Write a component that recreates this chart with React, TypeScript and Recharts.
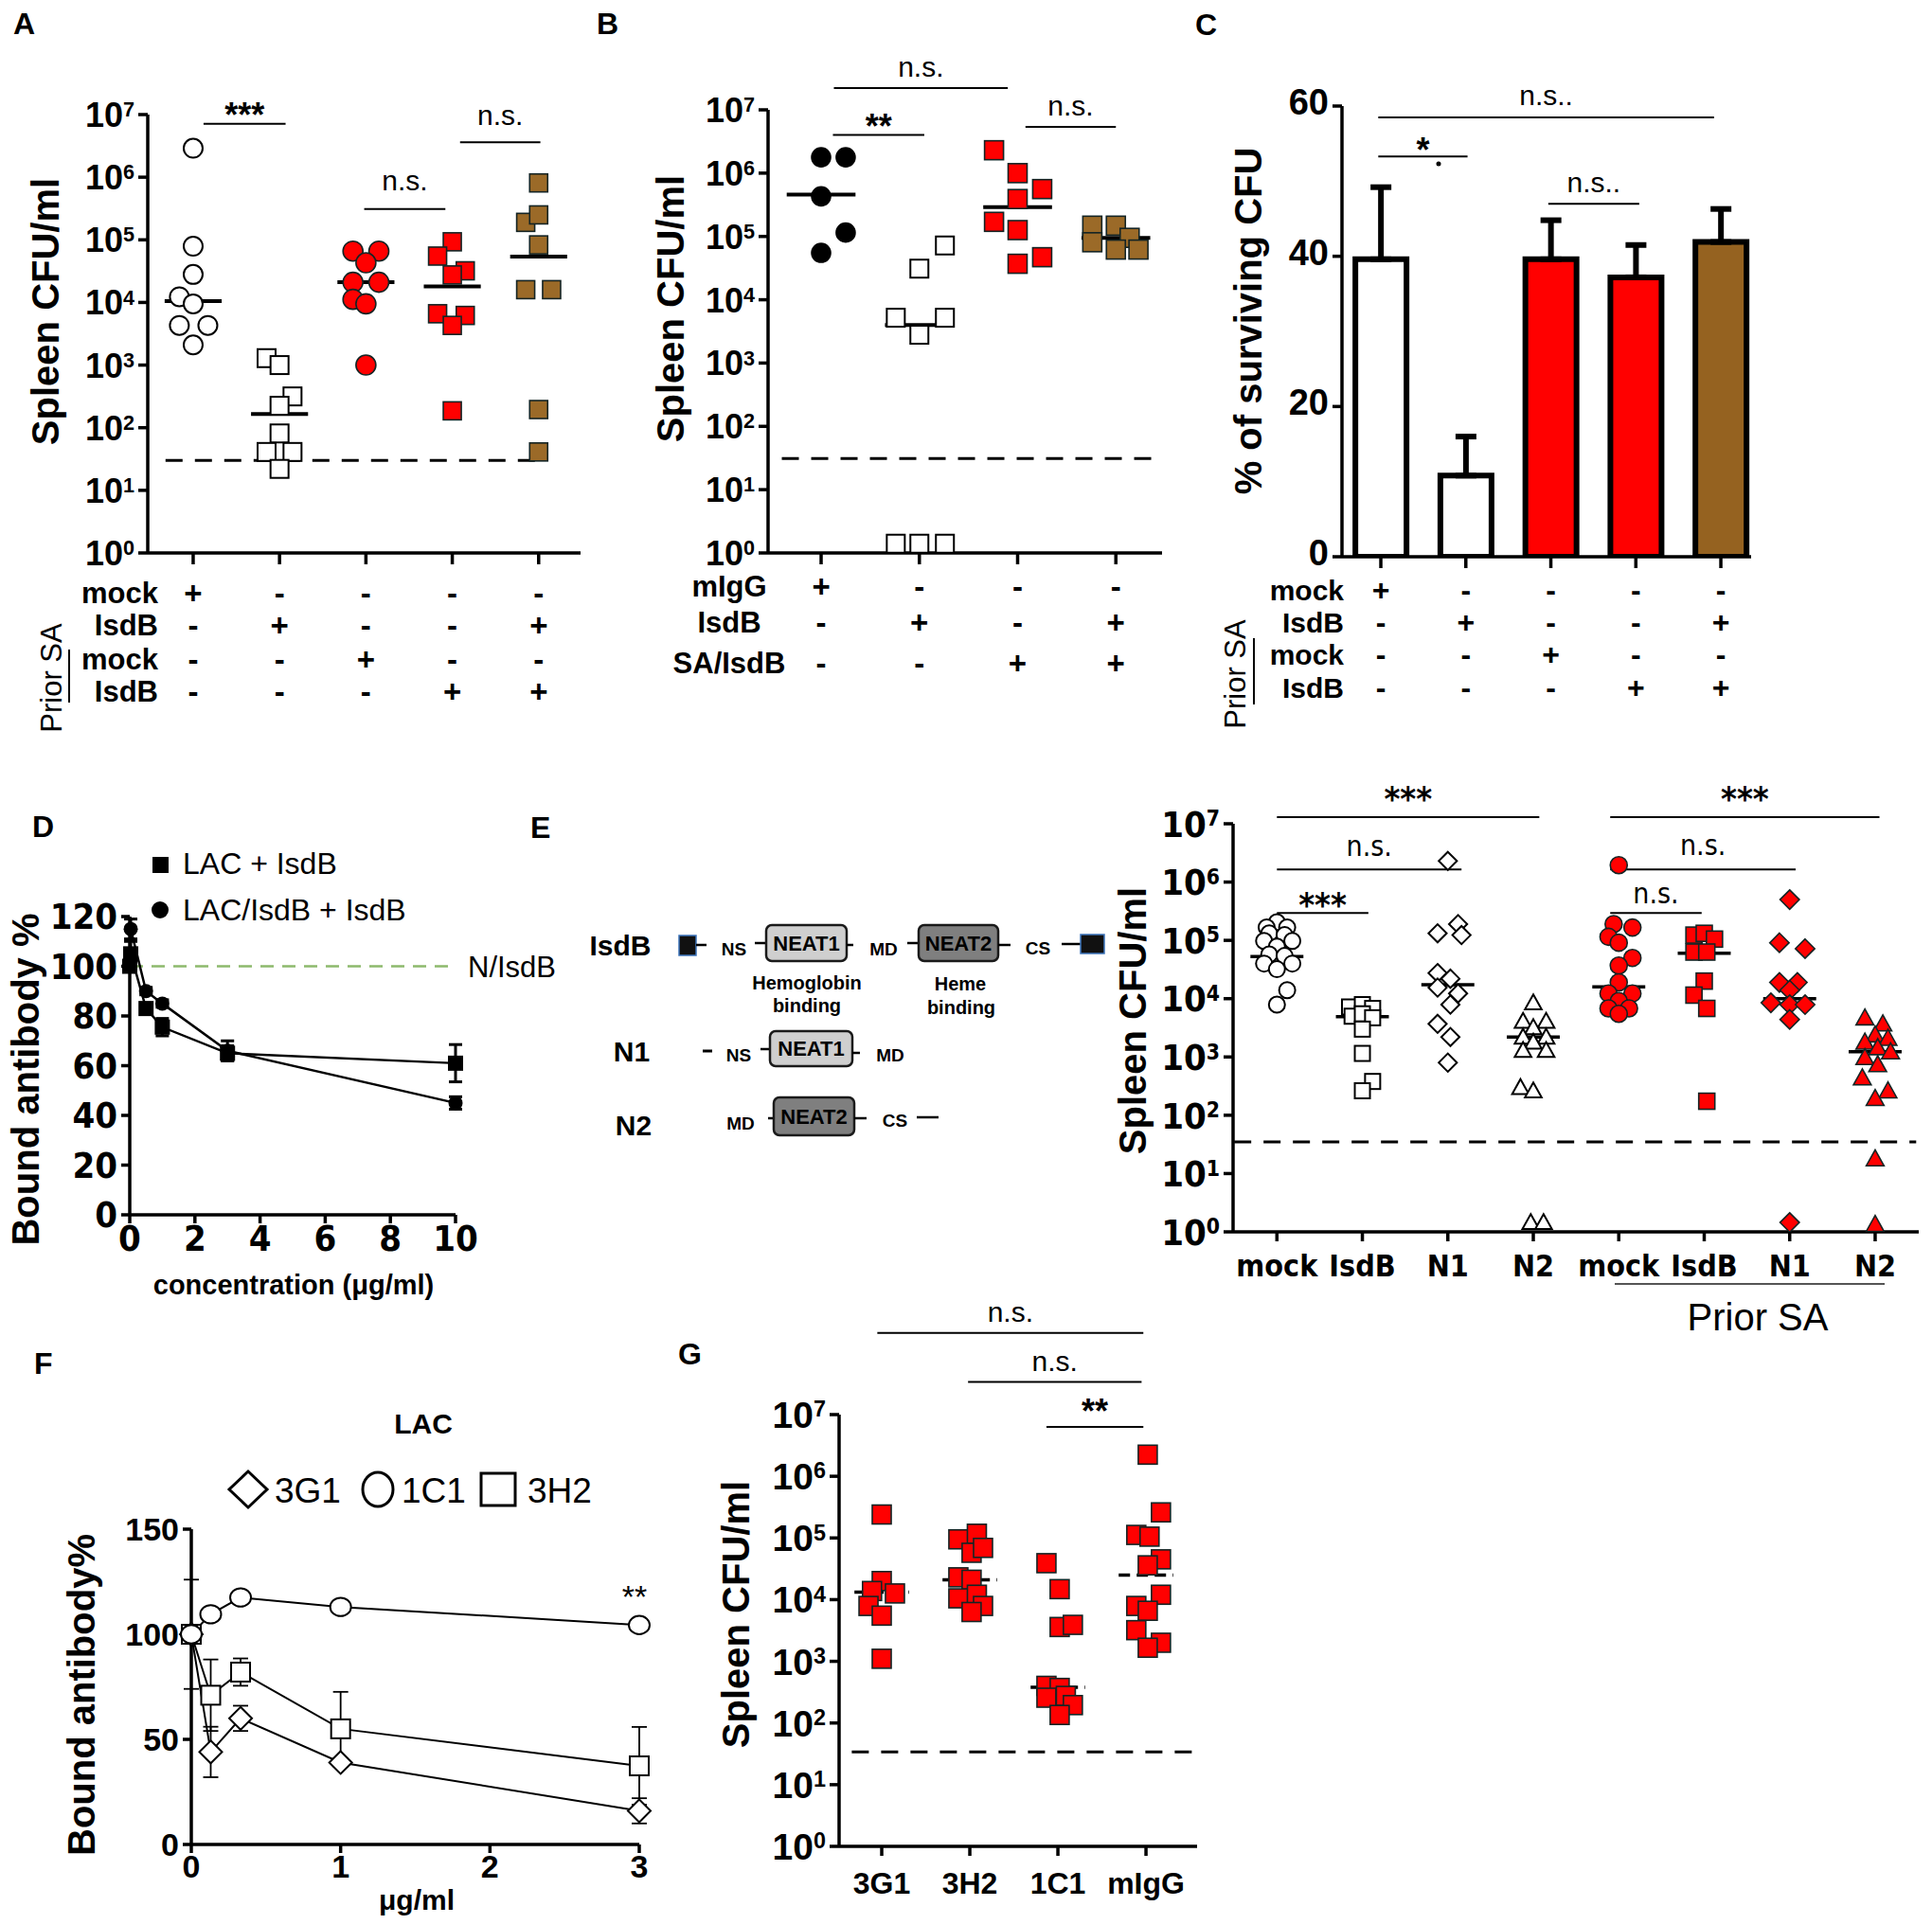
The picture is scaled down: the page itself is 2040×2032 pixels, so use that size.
import React from 'react';
import {
  ScatterChart, Scatter, XAxis, YAxis, ReferenceLine,
  BarChart, Bar, Cell, ErrorBar, LineChart, Line,
} from 'recharts';

const SANS = "'Liberation Sans', Arial, Helvetica, sans-serif";
const NARROW = "'Liberation Sans Narrow', 'Arial Narrow', 'DejaVu Sans Condensed', 'Liberation Sans', sans-serif";
const RED = '#FF0000';
const BROWN = '#9B6A28';
const BAR_BROWN = '#956220';
const EDGE = '#142424';

type Pt = { v: number; j: number };

// ---------------- Panel A data ----------------
const aRowLabels = ['mock', 'IsdB', 'mock', 'IsdB'];
const aSigns = [
  ['+', '-', '-', '-', '-'],
  ['-', '+', '-', '-', '+'],
  ['-', '-', '+', '-', '-'],
  ['-', '-', '-', '+', '+'],
];
const aMock: Pt[] = [{ v: 2.9e6, j: 0 }, { v: 7.9e4, j: 0 }, { v: 2.8e4, j: 0 }, { v: 1.23e4, j: -0.16 }, { v: 9.5e3, j: 0 }, { v: 4.3e3, j: -0.16 }, { v: 4.3e3, j: 0.17 }, { v: 2.1e3, j: 0 }];
const aIsdB: Pt[] = [{ v: 1.29e3, j: -0.15 }, { v: 1.0e3, j: 0 }, { v: 316, j: 0.15 }, { v: 224, j: 0 }, { v: 81, j: 0 }, { v: 41, j: -0.15 }, { v: 41, j: 0.15 }, { v: 22, j: 0 }];
const aPriorMock: Pt[] = [{ v: 6.6e4, j: -0.15 }, { v: 6.6e4, j: 0.15 }, { v: 4.3e4, j: 0 }, { v: 2.1e4, j: -0.15 }, { v: 2.1e4, j: 0.15 }, { v: 1.12e4, j: -0.15 }, { v: 9.5e3, j: 0 }, { v: 1.0e3, j: 0 }];
const aPriorIsdB: Pt[] = [{ v: 9.3e4, j: 0 }, { v: 5.5e4, j: -0.17 }, { v: 3.2e4, j: 0.15 }, { v: 2.75e4, j: 0 }, { v: 6.6e3, j: -0.17 }, { v: 6.2e3, j: 0.15 }, { v: 4.3e3, j: 0 }, { v: 186, j: 0 }];
const aPriorBoth: Pt[] = [{ v: 8.1e5, j: 0 }, { v: 1.9e5, j: -0.15 }, { v: 2.5e5, j: 0 }, { v: 8.3e4, j: 0 }, { v: 1.6e4, j: -0.15 }, { v: 1.6e4, j: 0.15 }, { v: 195, j: 0 }, { v: 41, j: 0 }];
const aMedians = [1.05e4, 165, 2.1e4, 1.8e4, 5.4e4];

// ---------------- Panel B data ----------------
const bRowLabels = ['mIgG', 'IsdB', 'SA/IsdB'];
const bSigns = [
  ['+', '-', '-', '-'],
  ['-', '+', '-', '+'],
  ['-', '-', '+', '+'],
];
const bIgG: Pt[] = [{ v: 1.78e6, j: 0 }, { v: 1.78e6, j: 0.25 }, { v: 4.3e5, j: 0 }, { v: 1.15e5, j: 0.25 }, { v: 5.5e4, j: 0 }];
const bIsdB: Pt[] = [{ v: 7.2e4, j: 0.26 }, { v: 3.1e4, j: 0 }, { v: 5.2e3, j: -0.24 }, { v: 5.2e3, j: 0.26 }, { v: 2.8e3, j: 0 }, { v: 1.4, j: -0.24 }, { v: 1.4, j: 0 }, { v: 1.4, j: 0.26 }];
const bSA: Pt[] = [{ v: 2.3e6, j: -0.24 }, { v: 1.0e6, j: 0 }, { v: 5.6e5, j: 0.25 }, { v: 3.9e5, j: 0 }, { v: 1.7e5, j: -0.24 }, { v: 1.26e5, j: 0 }, { v: 4.7e4, j: 0.25 }, { v: 3.7e4, j: 0 }];
const bBoth: Pt[] = [{ v: 1.48e5, j: -0.24 }, { v: 1.48e5, j: 0 }, { v: 9.5e4, j: 0.14 }, { v: 8.1e4, j: -0.24 }, { v: 6.2e4, j: 0 }, { v: 6.2e4, j: 0.23 }];
const bMedians = [4.6e5, 4.0e3, 2.9e5, 9.5e4];

// ---------------- Panel C data ----------------
const cValues = [39.6, 10.8, 39.6, 37.2, 41.9];
const cErrors = [9.6, 5.2, 5.2, 4.3, 4.4];
const cColors = ['#FFFFFF', '#FFFFFF', RED, RED, BAR_BROWN];
const cTicks = [0, 20, 40, 60];

// ---------------- Panel D data ----------------
const dConc = [0, 0.03, 0.5, 1, 3, 10];
const dLacIsdB = [100, 105, 83, 75.5, 65, 61];
const dLacIsdBErr = [0, 5, 2, 3.5, 3, 7.5];
const dPriorIsdB = [100, 115, 90, 85, 66, 45];
const dPriorIsdBErr = [0, 4, 1.5, 1.5, 4, 2.5];
const dXTicks = [0, 2, 4, 6, 8, 10];
const dYTicks = [0, 20, 40, 60, 80, 100, 120];

// ---------------- Panel E data ----------------
const eLabels = ['mock', 'IsdB', 'N1', 'N2', 'mock', 'IsdB', 'N1', 'N2'];
const eMock: Pt[] = [{ v: 2.04e5, j: 0 }, { v: 1.66e5, j: -0.12 }, { v: 1.66e5, j: 0.12 }, { v: 1.32e5, j: -0.09 }, { v: 1.23e5, j: 0.09 }, { v: 9.8e4, j: -0.15 }, { v: 9.8e4, j: 0.18 }, { v: 7.8e4, j: 0 }, { v: 5.75e4, j: -0.09 }, { v: 5.4e4, j: 0.09 }, { v: 4.0e4, j: -0.15 }, { v: 4.0e4, j: 0.18 }, { v: 3.2e4, j: 0 }, { v: 1.4e4, j: 0.12 }, { v: 7.9e3, j: 0 }];
const eIsdB: Pt[] = [{ v: 7.2e3, j: -0.15 }, { v: 7.9e3, j: 0 }, { v: 6.8e3, j: 0.12 }, { v: 5.0e3, j: -0.12 }, { v: 5.5e3, j: 0 }, { v: 4.7e3, j: 0.12 }, { v: 3.0e3, j: 0 }, { v: 1.15e3, j: 0 }, { v: 380, j: 0.12 }, { v: 263, j: 0 }];
const eN1: Pt[] = [{ v: 2.3e6, j: 0 }, { v: 1.9e5, j: 0.12 }, { v: 1.32e5, j: -0.12 }, { v: 1.23e5, j: 0.16 }, { v: 2.75e4, j: -0.12 }, { v: 2.2e4, j: 0.03 }, { v: 1.55e4, j: -0.12 }, { v: 1.23e4, j: 0.12 }, { v: 7.9e3, j: 0.03 }, { v: 3.7e3, j: -0.12 }, { v: 2.2e3, j: 0.03 }, { v: 800, j: 0 }];
const eN2: Pt[] = [{ v: 8.5e3, j: 0 }, { v: 4.1e3, j: -0.12 }, { v: 4.1e3, j: 0.15 }, { v: 3.2e3, j: 0 }, { v: 2.2e3, j: -0.12 }, { v: 2.2e3, j: 0.15 }, { v: 1.8e3, j: 0 }, { v: 1.3e3, j: -0.12 }, { v: 1.3e3, j: 0.15 }, { v: 300, j: -0.15 }, { v: 263, j: 0 }, { v: 1.45, j: -0.03 }, { v: 1.45, j: 0.12 }];
const ePriorMock: Pt[] = [{ v: 1.95e6, j: 0 }, { v: 1.9e5, j: -0.06 }, { v: 1.66e5, j: 0.16 }, { v: 1.15e5, j: -0.12 }, { v: 9.1e4, j: 0 }, { v: 5.0e4, j: 0.16 }, { v: 3.7e4, j: 0 }, { v: 1.9e4, j: 0 }, { v: 1.23e4, j: -0.12 }, { v: 1.23e4, j: 0.16 }, { v: 9.1e3, j: 0 }, { v: 6.8e3, j: -0.12 }, { v: 6.8e3, j: 0.12 }, { v: 5.5e3, j: 0 }];
const ePriorIsdB: Pt[] = [{ v: 1.23e5, j: -0.12 }, { v: 1.32e5, j: 0 }, { v: 1.05e5, j: 0.12 }, { v: 6.3e4, j: -0.12 }, { v: 6.3e4, j: 0.03 }, { v: 2.0e4, j: 0 }, { v: 1.15e4, j: -0.12 }, { v: 6.8e3, j: 0.03 }, { v: 174, j: 0.03 }];
const ePriorN1: Pt[] = [{ v: 5.0e5, j: 0 }, { v: 9.1e4, j: -0.12 }, { v: 7.2e4, j: 0.18 }, { v: 1.9e4, j: -0.12 }, { v: 1.9e4, j: 0.09 }, { v: 1.4e4, j: 0 }, { v: 8.5e3, j: -0.22 }, { v: 7.9e3, j: 0 }, { v: 7.9e3, j: 0.18 }, { v: 4.4e3, j: 0 }, { v: 1.45, j: 0 }];
const ePriorN2: Pt[] = [{ v: 4.7e3, j: -0.12 }, { v: 3.7e3, j: 0.09 }, { v: 2.4e3, j: 0 }, { v: 2.1e3, j: 0.15 }, { v: 1.8e3, j: -0.12 }, { v: 1.45e3, j: 0.03 }, { v: 1.23e3, j: 0.18 }, { v: 980, j: -0.12 }, { v: 740, j: 0.03 }, { v: 440, j: -0.15 }, { v: 263, j: 0.15 }, { v: 195, j: 0 }, { v: 18, j: 0 }, { v: 1.35, j: 0 }];
const eMedians = [5.25e4, 4.9e3, 1.74e4, 2.2e3, 1.6e4, 6.0e4, 1.0e4, 1.23e3];

// ---------------- Panel F data ----------------
const fConc = [0, 0.13, 0.33, 1, 3];
const f3G1 = [100, 44, 60, 39, 16];
const f3G1Err = [0, 12, 6, 2, 6];
const f1C1 = [100, 109.5, 117.5, 113, 104.4];
const f1C1Err = [0, 3, 3, 1.5, 1.5];
const f3H2 = [100, 71, 82, 55, 37.4];
const f3H2Err = [26, 17, 6.5, 17.6, 18.5];
const fXTicks = [0, 1, 2, 3];
const fYTicks = [0, 50, 100, 150];

// ---------------- Panel G data ----------------
const gLabels = ['3G1', '3H2', '1C1', 'mIgG'];
const g3G1: Pt[] = [{ v: 2.4e5, j: 0 }, { v: 2.0e4, j: 0 }, { v: 1.38e4, j: -0.11 }, { v: 1.26e4, j: 0.15 }, { v: 7.9e3, j: -0.15 }, { v: 5.5e3, j: 0 }, { v: 1.1e3, j: 0 }];
const g3H2: Pt[] = [{ v: 9.5e4, j: -0.13 }, { v: 1.17e5, j: 0.08 }, { v: 5.75e4, j: 0.02 }, { v: 6.9e4, j: 0.15 }, { v: 2.3e4, j: -0.13 }, { v: 2.1e4, j: 0.02 }, { v: 1.05e4, j: -0.13 }, { v: 1.2e4, j: 0.08 }, { v: 7.9e3, j: 0.15 }, { v: 6.3e3, j: 0.02 }];
const g1C1: Pt[] = [{ v: 3.9e4, j: -0.13 }, { v: 1.48e4, j: 0.02 }, { v: 3.6e3, j: 0.02 }, { v: 3.9e3, j: 0.17 }, { v: 400, j: -0.13 }, { v: 370, j: 0.02 }, { v: 257, j: -0.13 }, { v: 275, j: 0.09 }, { v: 195, j: 0.17 }, { v: 135, j: 0.02 }];
const gIgG: Pt[] = [{ v: 2.24e6, j: 0.02 }, { v: 2.6e5, j: 0.17 }, { v: 1.12e5, j: -0.11 }, { v: 1.05e5, j: 0.04 }, { v: 4.5e4, j: 0.17 }, { v: 3.6e4, j: 0.02 }, { v: 1.2e4, j: 0.17 }, { v: 7.9e3, j: -0.11 }, { v: 6.6e3, j: 0.02 }, { v: 3.2e3, j: -0.11 }, { v: 2.0e3, j: 0.17 }, { v: 1.66e3, j: 0.02 }];
const gMedians = [1.32e4, 2.1e4, 380, 2.5e4];

const LOG_TICKS = [1, 10, 100, 1e3, 1e4, 1e5, 1e6, 1e7];

// ---------------- helpers ----------------
type Shape = 'circle' | 'square' | 'diamond' | 'triangle' | 'ellipse';
function Marker({ cx, cy, shape, size, fill, stroke, sw }: any) {
  const h = size / 2;
  if (cx == null || cy == null) return <g />;
  if (shape === 'circle') return <circle cx={cx} cy={cy} r={h} fill={fill} stroke={stroke} strokeWidth={sw} />;
  if (shape === 'ellipse') return <ellipse cx={cx} cy={cy} rx={h} ry={h * 0.88} fill={fill} stroke={stroke} strokeWidth={sw} />;
  if (shape === 'square') return <rect x={cx - h} y={cy - h} width={size} height={size} fill={fill} stroke={stroke} strokeWidth={sw} />;
  if (shape === 'diamond') {
    const d = h * 1.2;
    return <polygon points={`${cx},${cy - d} ${cx + d},${cy} ${cx},${cy + d} ${cx - d},${cy}`} fill={fill} stroke={stroke} strokeWidth={sw} />;
  }
  const d = h * 1.1;
  return <polygon points={`${cx},${cy - d} ${cx + d},${cy + d * 0.8} ${cx - d},${cy + d * 0.8}`} fill={fill} stroke={stroke} strokeWidth={sw} />;
}

type Frame = { L: number; T: number; R: number; B: number; pl: number; pt: number; pr: number; pb: number };
const YW = 70;
const XH = 30;
function box(f: Frame) {
  return {
    style: { position: 'absolute' as const, left: f.L - f.pl, top: f.T - f.pt },
    width: f.R - f.L + f.pl + f.pr,
    height: f.B - f.T + f.pt + f.pb,
    margin: { left: f.pl - YW, top: f.pt, right: f.pr, bottom: f.pb - XH },
    ox: f.L - f.pl,
    oy: f.T - f.pt,
  };
}

function LogTick(props: any) {
  const { x, y, payload, fs, fam } = props;
  const e = Math.round(Math.log10(payload.value));
  return (
    <text x={x} y={y + fs * 0.36} textAnchor="end" fontSize={fs} fontWeight="bold" fontFamily={fam} fill="#000">
      10<tspan dy={-fs * 0.3} fontSize={fs * 0.6}>{e}</tspan>
    </text>
  );
}

function NumTick(props: any) {
  const { x, y, payload, fs, dy = 0 } = props;
  return (
    <text x={x} y={y + dy} textAnchor="end" dominantBaseline="central" fontSize={fs} fontWeight="bold" fontFamily={SANS} fill="#000">
      {payload.value}
    </text>
  );
}

const rowsTick = (signs: string[][], ys: number[], fs: number) => (oy: number) => (p: any) => {
  const i = Math.round(p.payload.value) - 1;
  return (
    <g>
      {signs.map((row, k) => (
        <text key={k} x={p.x} y={ys[k] - oy} textAnchor="middle" dominantBaseline="central" fontSize={fs} fontWeight="bold" fontFamily={SANS} fill="#000">
          {row[i]}
        </text>
      ))}
    </g>
  );
};

const labelTick = (labels: string[], y: number, fs: number, fam: string) => (oy: number) => (p: any) => {
  const i = Math.round(p.payload.value) - 1;
  return (
    <text x={p.x} y={y - oy} textAnchor="middle" dominantBaseline="central" fontSize={fs} fontWeight="bold" fontFamily={fam} fill="#000">
      {labels[i]}
    </text>
  );
};

type Sig = { x1: number; x2: number; y: number; label: string; off: number; fs: number; bold: boolean };
const ns = (x1: number, x2: number, y: number, off = 12, label = 'n.s.'): Sig => ({ x1, x2, y, label, off, fs: 30, bold: false });
const stars = (x1: number, x2: number, y: number, label: string, off = -3): Sig => ({ x1, x2, y, label, off, fs: 36, bold: true });

function sigLines(sig: Sig[], fam = SANS) {
  return sig.map((s, i) => (
    <ReferenceLine
      key={'sig' + i}
      segment={[{ x: s.x1, y: s.y }, { x: s.x2, y: s.y }]}
      stroke="#000"
      strokeWidth={2}
      ifOverflow="visible"
      label={{ value: s.label, position: 'top', offset: s.off, fill: '#000', fontSize: s.fs, fontWeight: s.bold ? 'bold' : 'normal', fontFamily: fam }}
    />
  ));
}

type Series = { pts: Pt[]; shape: Shape; fill: string; stroke: string; size: number; sw: number };
type LogCfg = {
  frame: Frame; xDomain: [number, number]; n: number; series: Series[];
  medians: number[]; medHalf: number; medW: number; medDash?: string;
  sig: Sig[]; lod: [number, number, number]; tickFs: number; tickFam: string;
  xTick: (oy: number) => (p: any) => any; axisSw: number; xTickSize: number; sigFam?: string;
};

function LogPanel({ c }: { c: LogCfg }) {
  const b = box(c.frame);
  const ticks = Array.from({ length: c.n }, (_, i) => i + 1);
  const ax = { stroke: '#000', strokeWidth: c.axisSw };
  return (
    <div style={b.style}>
      <ScatterChart width={b.width} height={b.height} margin={b.margin}>
        <XAxis type="number" dataKey="x" domain={c.xDomain} ticks={ticks} allowDataOverflow interval={0} height={XH}
          tick={c.xTick(b.oy)} tickSize={c.xTickSize} tickLine={ax} axisLine={ax} />
        <YAxis type="number" dataKey="y" scale="log" domain={[1, 1e7]} ticks={LOG_TICKS} allowDataOverflow interval={0} width={YW}
          tickSize={10} tickMargin={4} tick={(p: any) => <LogTick {...p} fs={c.tickFs} fam={c.tickFam} />} tickLine={ax} axisLine={ax} />
        {c.series.map((s, i) => (
          <Scatter key={i} data={s.pts.map((p) => ({ x: i + 1 + p.j, y: p.v }))} isAnimationActive={false}
            shape={(p: any) => <Marker cx={p.cx} cy={p.cy} shape={s.shape} size={s.size} fill={s.fill} stroke={s.stroke} sw={s.sw} />} />
        ))}
        {c.medians.map((m, i) => (
          <ReferenceLine key={'med' + i} segment={[{ x: i + 1 - c.medHalf, y: m }, { x: i + 1 + c.medHalf, y: m }]}
            stroke="#000" strokeWidth={c.medW} strokeDasharray={c.medDash} />
        ))}
        <ReferenceLine segment={[{ x: c.lod[0], y: c.lod[2] }, { x: c.lod[1], y: c.lod[2] }]} stroke="#000" strokeWidth={3} strokeDasharray="18 13" ifOverflow="visible" />
        {sigLines(c.sig, c.sigFam)}
      </ScatterChart>
    </div>
  );
}

const openS = (pts: Pt[], shape: Shape, size: number): Series => ({ pts, shape, fill: '#fff', stroke: '#000', size, sw: 2 });
const fillS = (pts: Pt[], shape: Shape, size: number, fill: string, stroke = EDGE): Series => ({ pts, shape, fill, stroke, size, sw: 1.6 });

// ---------------- panel configs ----------------
const cfgA: LogCfg = {
  frame: { L: 156, T: 121, R: 613, B: 584, pl: 100, pt: 100, pr: 12, pb: 170 },
  xDomain: [0.474, 5.485], n: 5,
  series: [openS(aMock, 'circle', 20), openS(aIsdB, 'square', 19), fillS(aPriorMock, 'circle', 21, RED), fillS(aPriorIsdB, 'square', 19, RED), fillS(aPriorBoth, 'square', 19, BROWN)],
  medians: aMedians, medHalf: 0.33, medW: 4,
  sig: [stars(1.12, 2.07, 7.1e6, '***'), ns(2.98, 3.92, 3.1e5, 20), ns(4.09, 5.02, 3.6e6, 18)],
  lod: [0.68, 4.99, 30], tickFs: 36, tickFam: SANS,
  xTick: rowsTick(aSigns, [626, 660, 696, 730], 33), axisSw: 3.5, xTickSize: 12,
};
const cfgB: LogCfg = {
  frame: { L: 811, T: 116, R: 1227, B: 584, pl: 100, pt: 100, pr: 12, pb: 140 },
  xDomain: [0.46, 4.47], n: 4,
  series: [fillS(bIgG, 'circle', 20, '#000', '#000'), openS(bIsdB, 'square', 19), fillS(bSA, 'square', 20, RED), fillS(bBoth, 'square', 20, BROWN)],
  medians: bMedians, medHalf: 0.35, medW: 4,
  sig: [stars(1.12, 2.05, 4e6, '**'), ns(1.13, 2.9, 2.2e7, 12), ns(3.08, 4.0, 5.4e6, 12)],
  lod: [0.6, 4.43, 31], tickFs: 36, tickFam: SANS,
  xTick: rowsTick(bSigns, [619, 657, 700], 33), axisSw: 3.5, xTickSize: 12,
};
const cfgE: LogCfg = {
  frame: { L: 1302, T: 870, R: 2026, B: 1301, pl: 100, pt: 80, pr: 8, pb: 70 },
  xDomain: [0.487, 8.51], n: 8,
  series: [openS(eMock, 'circle', 17), openS(eIsdB, 'square', 16), openS(eN1, 'diamond', 16), openS(eN2, 'triangle', 16),
    fillS(ePriorMock, 'circle', 18, RED), fillS(ePriorIsdB, 'square', 17, RED), fillS(ePriorN1, 'diamond', 17, RED), fillS(ePriorN2, 'triangle', 17, RED)],
  medians: eMedians, medHalf: 0.31, medW: 3.5,
  sig: [stars(1.0, 4.07, 1.3e7, '***', 7), ns(1.0, 3.16, 1.64e6, 14), stars(1.0, 2.07, 2.95e5, '***', -4),
    stars(4.9, 8.05, 1.3e7, '***', 7), ns(4.9, 7.07, 1.64e6, 15), ns(4.9, 5.97, 2.95e5, 10)],
  lod: [0.5, 8.48, 35], tickFs: 38, tickFam: NARROW,
  xTick: labelTick(eLabels, 1337, 32, NARROW), axisSw: 3.5, xTickSize: 10, sigFam: NARROW,
};
const cfgG: LogCfg = {
  frame: { L: 886, T: 1494, R: 1264, B: 1950, pl: 100, pt: 140, pr: 20, pb: 70 },
  xDomain: [0.516, 4.58], n: 4,
  series: [fillS(g3G1, 'square', 20, RED), fillS(g3H2, 'square', 20, RED), fillS(g1C1, 'square', 20, RED), fillS(gIgG, 'square', 20, RED)],
  medians: gMedians, medHalf: 0.31, medW: 3.5, medDash: '12 7',
  sig: [ns(0.95, 3.97, 2.1e8, 12), ns(1.98, 3.95, 3.4e7, 11), stars(2.87, 3.97, 6.3e6, '**', 4)],
  lod: [0.66, 4.58, 34], tickFs: 39, tickFam: SANS,
  xTick: labelTick(gLabels, 1989, 32, SANS), axisSw: 3.5, xTickSize: 10,
};

// ---------------- Panel C ----------------
const cRowYs = [623, 657, 691, 726];
function PanelC() {
  const f: Frame = { L: 1417, T: 112, R: 1849, B: 588, pl: 100, pt: 100, pr: 20, pb: 160 };
  const b = box(f);
  const data = cValues.map((v, i) => ({ x: i + 1, v, err: [0, cErrors[i]] }));
  const ax = { stroke: '#000', strokeWidth: 3.5 };
  return (
    <div style={b.style}>
      <BarChart width={b.width} height={b.height} margin={b.margin} data={data} barSize={54}>
        <XAxis type="number" dataKey="x" domain={[0.543, 5.356]} ticks={[1, 2, 3, 4, 5]} allowDataOverflow interval={0} height={XH}
          tick={rowsTick(aSigns, cRowYs, 32)(b.oy)} tickSize={12} tickLine={ax} axisLine={ax} />
        <YAxis type="number" domain={[0, 60]} ticks={cTicks} allowDataOverflow interval={0} width={YW} tickSize={10} tickMargin={4}
          tick={(p: any) => <NumTick {...p} fs={38} dy={-4} />} tickLine={ax} axisLine={ax} />
        <Bar dataKey="v" stroke="#000" strokeWidth={6} isAnimationActive={false}>
          {data.map((d, i) => <Cell key={i} fill={cColors[i]} />)}
          <ErrorBar dataKey="err" width={11} strokeWidth={6} stroke="#000" direction="y" />
        </Bar>
        {sigLines([ns(0.97, 4.92, 58.5, 13, 'n.s..'), stars(0.97, 2.02, 53.3, '*', -6), ns(2.97, 4.04, 47, 12, 'n.s..')])}
      </BarChart>
    </div>
  );
}

// ---------------- Panel D ----------------
function PanelD() {
  const f: Frame = { L: 137, T: 968, R: 481, B: 1283, pl: 100, pt: 30, pr: 40, pb: 60 };
  const b = box(f);
  const sq = dConc.map((x, i) => ({ x, y: dLacIsdB[i], e: dLacIsdBErr[i] }));
  const ci = dConc.map((x, i) => ({ x, y: dPriorIsdB[i], e: dPriorIsdBErr[i] }));
  const ax = { stroke: '#000', strokeWidth: 3.5 };
  const tk = { fontSize: 38, fontWeight: 'bold', fill: '#000', fontFamily: NARROW };
  return (
    <div style={b.style}>
      <LineChart width={b.width} height={b.height} margin={b.margin}>
        <XAxis type="number" dataKey="x" domain={[0, 10]} ticks={dXTicks} interval={0} height={XH}
          tick={tk} tickSize={9} tickMargin={2} tickLine={ax} axisLine={ax} />
        <YAxis type="number" domain={[0, 120]} ticks={dYTicks} interval={0} width={YW}
          tick={tk} tickSize={9} tickMargin={4} tickLine={ax} axisLine={ax} />
        <ReferenceLine y={100} stroke="#8DB96C" strokeWidth={2.5} strokeDasharray="14 9" />
        <Line data={sq} dataKey="y" stroke="#000" strokeWidth={2.5} isAnimationActive={false}
          dot={(p: any) => <rect key={'sq' + p.index} x={p.cx - 8} y={p.cy - 8} width={16} height={16} fill="#000" />}>
          <ErrorBar dataKey="e" width={7} strokeWidth={3} stroke="#000" direction="y" />
        </Line>
        <Line data={ci} dataKey="y" stroke="#000" strokeWidth={2.5} isAnimationActive={false}
          dot={(p: any) => <circle key={'ci' + p.index} cx={p.cx} cy={p.cy} r={7.5} fill="#000" />}>
          <ErrorBar dataKey="e" width={7} strokeWidth={3} stroke="#000" direction="y" />
        </Line>
      </LineChart>
    </div>
  );
}

// ---------------- Panel F ----------------
function PanelF() {
  const f: Frame = { L: 202, T: 1615, R: 675, B: 1948, pl: 110, pt: 30, pr: 30, pb: 60 };
  const b = box(f);
  const mk = (ys: number[], es: number[]) => fConc.map((x, i) => ({ x, y: ys[i], e: es[i] }));
  const ax = { stroke: '#000', strokeWidth: 3.5 };
  const tk = { fontSize: 34, fontWeight: 'bold', fill: '#000', fontFamily: SANS };
  const dot = (shape: Shape, size: number) => (p: any) => (
    <Marker key={shape + p.index} cx={p.cx} cy={p.cy} shape={shape} size={size} fill="#fff" stroke="#000" sw={2} />
  );
  return (
    <div style={b.style}>
      <LineChart width={b.width} height={b.height} margin={b.margin}>
        <XAxis type="number" dataKey="x" domain={[0, 3]} ticks={fXTicks} interval={0} height={XH}
          tick={tk} tickSize={9} tickMargin={2} tickLine={ax} axisLine={ax} />
        <YAxis type="number" domain={[0, 150]} ticks={fYTicks} interval={0} width={YW}
          tick={tk} tickSize={9} tickMargin={4} tickLine={ax} axisLine={ax} />
        <Line data={mk(f3H2, f3H2Err)} dataKey="y" stroke="#000" strokeWidth={2} isAnimationActive={false} dot={dot('square', 20)}>
          <ErrorBar dataKey="e" width={8} strokeWidth={1.8} stroke="#000" direction="y" />
        </Line>
        <Line data={mk(f3G1, f3G1Err)} dataKey="y" stroke="#000" strokeWidth={2} isAnimationActive={false} dot={dot('diamond', 20)}>
          <ErrorBar dataKey="e" width={8} strokeWidth={1.8} stroke="#000" direction="y" />
        </Line>
        <Line data={mk(f1C1, f1C1Err)} dataKey="y" stroke="#000" strokeWidth={2} isAnimationActive={false} dot={dot('ellipse', 22)}>
          <ErrorBar dataKey="e" width={8} strokeWidth={1.8} stroke="#000" direction="y" />
        </Line>
      </LineChart>
    </div>
  );
}

// ---------------- static overlay (labels, titles, diagram) ----------------
function T({ x, y, s, fs, w = 'bold', a = 'middle', rot, fam = SANS }: any) {
  return (
    <text x={x} y={y} fontSize={fs} fontWeight={w} textAnchor={a} dominantBaseline="central" fontFamily={fam} fill="#000"
      transform={rot ? `rotate(${rot} ${x} ${y})` : undefined}>
      {s}
    </text>
  );
}

function Domain({ x, y, w, h, label, fill }: any) {
  return (
    <g>
      <rect x={x} y={y} width={w} height={h} rx={6} fill={fill} stroke="#1a1a1a" strokeWidth={2.5} />
      <T x={x + w / 2} y={y + h / 2} s={label} fs={22} />
    </g>
  );
}

function Overlay() {
  const line = (x1: number, y1: number, x2: number, y2: number, sw = 2.5, c = '#000') => (
    <line x1={x1} y1={y1} x2={x2} y2={y2} stroke={c} strokeWidth={sw} />
  );
  return (
    <svg width={2040} height={2032} style={{ position: 'absolute', left: 0, top: 0, pointerEvents: 'none' }}>
      {/* panel letters */}
      <T x={14} y={25} s="A" fs={32} a="start" />
      <T x={630} y={25} s="B" fs={32} a="start" />
      <T x={1262} y={26} s="C" fs={32} a="start" />
      <T x={34} y={873} s="D" fs={32} a="start" />
      <T x={560} y={874} s="E" fs={32} a="start" />
      <T x={36} y={1440} s="F" fs={32} a="start" />
      <T x={716} y={1430} s="G" fs={32} a="start" />

      {/* axis titles */}
      <T x={48} y={329} s="Spleen CFU/ml" fs={40} rot={-90} />
      <T x={708} y={326} s="Spleen CFU/ml" fs={40} rot={-90} />
      <T x={1318} y={339} s="% of surviving CFU" fs={40} rot={-90} />
      <T x={27} y={1140} s="Bound antibody %" fs={40} rot={-90} />
      <T x={1196} y={1078} s="Spleen CFU/ml" fs={40} rot={-90} />
      <T x={86} y={1790} s="Bound antibody%" fs={40} rot={-90} />
      <T x={777} y={1705} s="Spleen CFU/ml" fs={40} rot={-90} />
      <T x={310} y={1357} s="concentration  (μg/ml)" fs={29} />
      <T x={440} y={2006} s="μg/ml" fs={30} />

      {/* A row labels */}
      {aRowLabels.map((s, i) => <T key={'ar' + i} x={167} y={[626, 660, 696, 730][i]} s={s} fs={31} a="end" />)}
      <T x={54} y={716} s="Prior SA" fs={31} w="normal" rot={-90} />
      {line(73, 686, 73, 742, 2)}
      {/* B row labels */}
      {bRowLabels.map((s, i) => <T key={'br' + i} x={770} y={[619, 657, 700][i]} s={s} fs={31} />)}
      {/* C row labels */}
      {aRowLabels.map((s, i) => <T key={'cr' + i} x={1419} y={cRowYs[i]} s={s} fs={30} a="end" />)}
      <T x={1304} y={712} s="Prior SA" fs={31} w="normal" rot={-90} />
      {line(1324, 674, 1324, 744, 2)}
      <circle cx={1519} cy={173} r={2.5} fill="#000" />

      {/* D legend */}
      <rect x={161} y={905} width={17} height={17} fill="#000" />
      <T x={193} y={912} s="LAC + IsdB" fs={32} w="normal" a="start" />
      <circle cx={169} cy={961} r={9} fill="#000" />
      <T x={193} y={961} s="LAC/IsdB + IsdB" fs={32} w="normal" a="start" />
      <T x={494} y={1021} s="N/IsdB" fs={31} w="normal" a="start" />

      {/* E diagram */}
      <T x={655} y={998} s="IsdB" fs={30} />
      <rect x={717} y={988} width={18} height={21} fill="#111" stroke="#3b73b9" strokeWidth={1.5} />
      {line(735, 998, 746, 998)}
      <T x={775} y={1002} s="NS" fs={19} />
      {line(797, 996, 809, 996)}
      <Domain x={809} y={977} w={85} h={38} label="NEAT1" fill="#CFCFCF" />
      {line(894, 998, 901, 998)}
      <T x={933} y={1002} s="MD" fs={19} />
      {line(958, 996, 970, 996)}
      <Domain x={970} y={977} w={84} h={38} label="NEAT2" fill="#7F7F7F" />
      {line(1054, 998, 1067, 998)}
      <T x={1096} y={1001} s="CS" fs={19} />
      {line(1121, 997, 1141, 997)}
      <rect x={1141} y={987} width={25} height={20} fill="#111" stroke="#3b73b9" strokeWidth={1.5} />
      <T x={852} y={1038} s="Hemoglobin" fs={20} />
      <T x={852} y={1062} s="binding" fs={20} />
      <T x={1014} y={1039} s="Heme" fs={20} />
      <T x={1015} y={1064} s="binding" fs={20} />

      <T x={667} y={1110} s="N1" fs={30} />
      {line(742, 1110, 752, 1110, 3)}
      <T x={780} y={1114} s="NS" fs={19} />
      {line(803, 1108, 813, 1108)}
      <Domain x={813} y={1089} w={87} h={37} label="NEAT1" fill="#CFCFCF" />
      {line(900, 1112, 908, 1112)}
      <T x={940} y={1114} s="MD" fs={19} />

      <T x={669} y={1188} s="N2" fs={30} />
      <T x={782} y={1186} s="MD" fs={19} />
      {line(811, 1181, 817, 1181)}
      <Domain x={817} y={1159} w={85} h={40} label="NEAT2" fill="#7F7F7F" />
      {line(902, 1181, 915, 1181)}
      <T x={945} y={1183} s="CS" fs={19} />
      {line(968, 1180, 991, 1180)}

      {/* E prior SA */}
      {line(1705, 1356, 1990, 1356, 2, '#555')}
      <T x={1856} y={1391} s="Prior SA" fs={40} w="normal" />

      {/* F legend & labels */}
      <T x={447} y={1503} s="LAC" fs={30} />
      <polygon points="262,1554 282,1573 262,1592 242,1573" fill="#fff" stroke="#000" strokeWidth={3} />
      <T x={290} y={1574} s="3G1" fs={37} w="normal" a="start" />
      <ellipse cx={399} cy={1573} rx={16} ry={18} fill="#fff" stroke="#000" strokeWidth={3} />
      <T x={424} y={1574} s="1C1" fs={37} w="normal" a="start" />
      <rect x={508} y={1556} width={36} height={34} fill="#fff" stroke="#000" strokeWidth={3} />
      <T x={557} y={1574} s="3H2" fs={37} w="normal" a="start" />
      <T x={670} y={1686} s="**" fs={34} w="normal" />
    </svg>
  );
}

export default function App() {
  return (
    <div style={{ position: 'absolute', left: 0, top: 0, width: 2040, height: 2032, background: '#fff', fontFamily: SANS, overflow: 'hidden' }}>
      <LogPanel c={cfgA} />
      <LogPanel c={cfgB} />
      <PanelC />
      <PanelD />
      <LogPanel c={cfgE} />
      <PanelF />
      <LogPanel c={cfgG} />
      <Overlay />
    </div>
  );
}
